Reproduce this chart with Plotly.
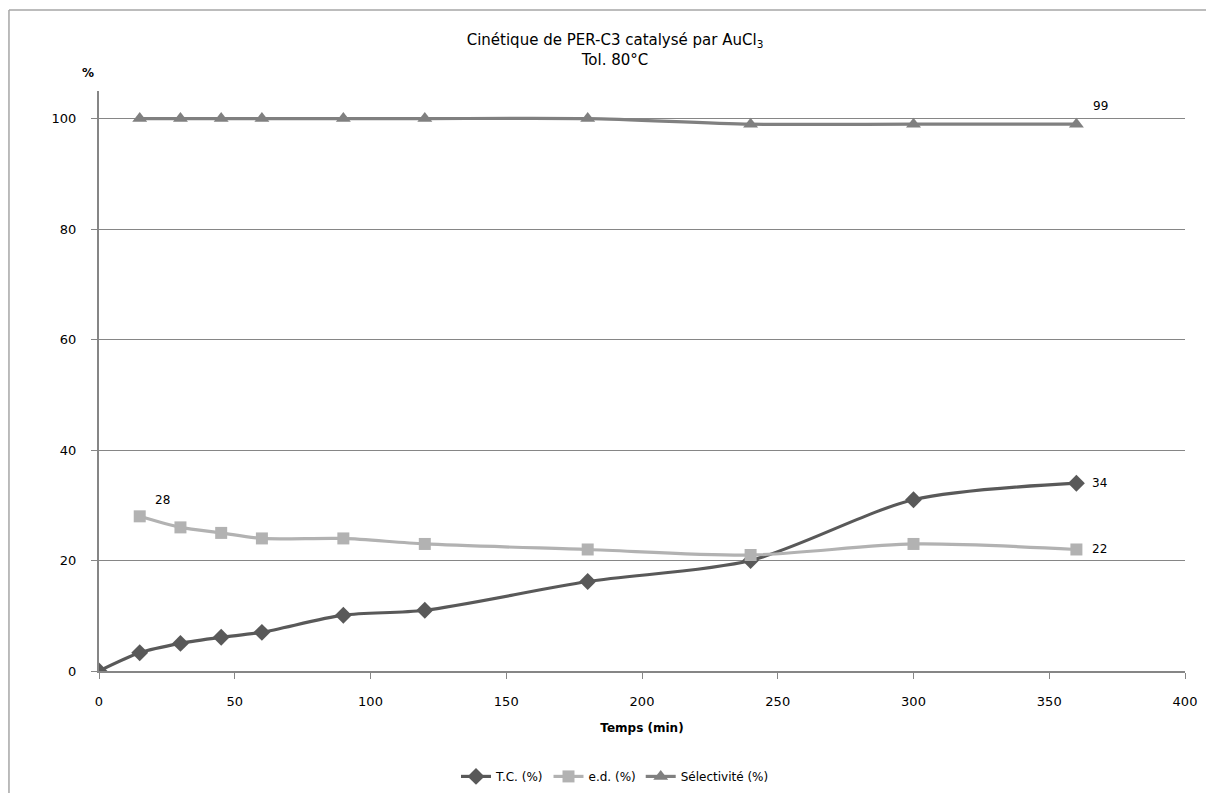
import plotly.graph_objects as go

# time points (min)
temps_tc = [0, 15, 30, 45, 60, 90, 120, 180, 240, 300, 360]
tc_pct = [0, 3.3, 5.0, 6.1, 7.0, 10.1, 11.0, 16.2, 20.0, 31.0, 34.0]

temps_ed = [15, 30, 45, 60, 90, 120, 180, 240, 300, 360]
ed_pct = [28, 26, 25, 24, 24, 23, 22, 21, 23, 22]

temps_sel = [15, 30, 45, 60, 90, 120, 180, 240, 300, 360]
sel_pct = [100, 100, 100, 100, 100, 100, 100, 99, 99, 99]

FONT = "'DejaVu Sans', Verdana, sans-serif"
AXIS_GREY = "#868686"

fig = go.Figure()

fig.add_trace(
    go.Scatter(
        x=temps_tc,
        y=tc_pct,
        name="T.C. (%)",
        mode="lines+markers",
        line={"color": "#595959", "width": 3.2, "shape": "spline", "smoothing": 0.8},
        marker={"symbol": "diamond", "size": 13, "color": "#595959"},
    )
)
fig.add_trace(
    go.Scatter(
        x=temps_ed,
        y=ed_pct,
        name="e.d. (%)",
        mode="lines+markers",
        line={"color": "#b2b2b2", "width": 3.2, "shape": "spline", "smoothing": 0.8},
        marker={"symbol": "square", "size": 12, "color": "#b2b2b2"},
    )
)
fig.add_trace(
    go.Scatter(
        x=temps_sel,
        y=sel_pct,
        name="Sélectivité (%)",
        mode="lines+markers",
        line={"color": "#808080", "width": 3.2, "shape": "spline", "smoothing": 0.8},
        marker={"symbol": "triangle-up", "size": 13, "color": "#808080"},
    )
)

# data labels next to selected points
labels = [
    (temps_ed[0], ed_pct[0], 23, 16),
    (temps_tc[-1], tc_pct[-1], 23, 0),
    (temps_ed[-1], ed_pct[-1], 23, 0),
    (temps_sel[-1], sel_pct[-1], 24, 18),
]
for lx, ly, dx, dy in labels:
    fig.add_annotation(
        x=lx, y=ly, text=str(round(ly)), showarrow=False,
        xanchor="center", yanchor="middle", xshift=dx, yshift=dy,
        font={"size": 12, "color": "#000000"},
    )

# "%" unit above the y axis
fig.add_annotation(
    xref="paper", yref="paper", x=-0.0101, y=1.031,
    xanchor="center", yanchor="middle",
    text="<b>%</b>", showarrow=False, font={"size": 12, "color": "#000000"},
)

# chart frame (top and left edges of the cropped Excel chart area)
fig.add_shape(
    type="line", xref="paper", yref="paper",
    x0=-0.0829, x1=1.04, y0=1.1397, y1=1.1397,
    line={"color": "#a6a6a6", "width": 1.5},
)
fig.add_shape(
    type="line", xref="paper", yref="paper",
    x0=-0.0829, x1=-0.0829, y0=1.1397, y1=-0.25,
    line={"color": "#a6a6a6", "width": 1.5},
)

fig.update_layout(
    width=1214,
    height=793,
    margin={"l": 91, "r": 37, "t": 83, "b": 130},
    paper_bgcolor="white",
    plot_bgcolor="white",
    font={"family": FONT, "size": 13, "color": "#000000"},
    title={
        "text": "Cinétique de PER-C3 catalysé par AuCl<sub>3</sub><br>Tol. 80°C",
        "x": 0.5,
        "xref": "container",
        "xanchor": "center",
        "y": 0.953,
        "yref": "container",
        "yanchor": "top",
        "font": {"size": 15, "family": FONT},
    },
    showlegend=True,
    legend={
        "orientation": "h",
        "x": 0.5,
        "xref": "container",
        "xanchor": "center",
        "y": 0.031,
        "yref": "container",
        "yanchor": "middle",
        "font": {"size": 12},
    },
)

fig.update_xaxes(
    range=[0, 400],
    tick0=0,
    dtick=50,
    automargin=False,
    showgrid=False,
    showline=True,
    linecolor=AXIS_GREY,
    linewidth=2,
    ticks="outside",
    ticklen=6,
    tickcolor=AXIS_GREY,
    ticklabelstandoff=11,
    tickfont={"size": 13},
    zeroline=False,
    title={"text": "<b>Temps (min)</b>", "standoff": 16, "font": {"size": 12}},
)
fig.update_yaxes(
    range=[0, 105],
    tick0=0,
    dtick=20,
    automargin=False,
    showgrid=True,
    gridcolor=AXIS_GREY,
    gridwidth=1,
    showline=True,
    linecolor=AXIS_GREY,
    linewidth=2,
    ticks="outside",
    ticklen=6,
    tickcolor=AXIS_GREY,
    ticklabelstandoff=12,
    tickfont={"size": 13},
    zeroline=False,
)

fig.write_html("out.html")
